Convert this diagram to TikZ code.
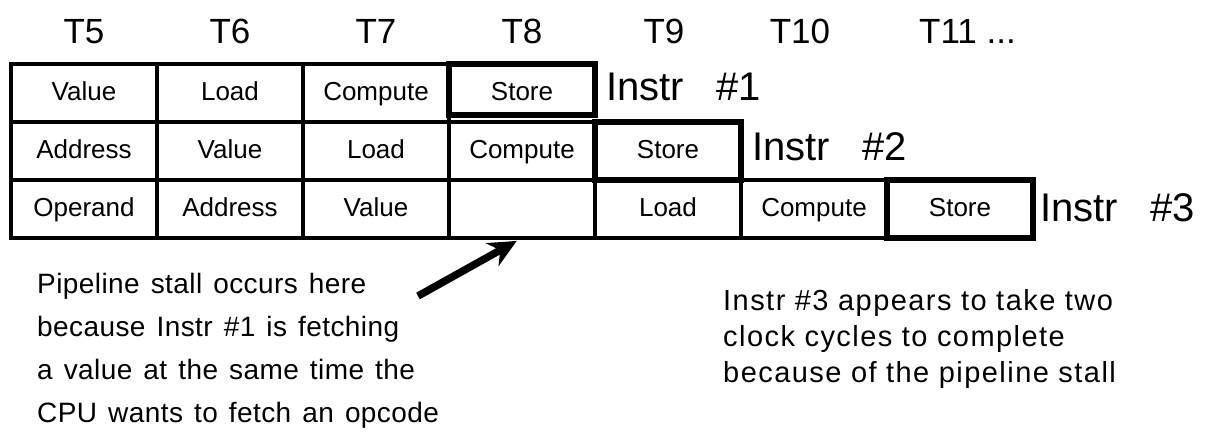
\documentclass[tikz,border=0pt]{standalone}
\usepackage{fontspec}
\setmainfont{Liberation Sans}
\newfontfamily\notefont[LetterSpace=1.5,WordSpace=1.35]{Liberation Sans}
\newfontfamily\widenotefont[LetterSpace=5]{Liberation Sans}
\usetikzlibrary{positioning,arrows.meta}
\tikzstyle{cell} = [rectangle, draw, line width=3.5pt, minimum width=146pt,
    minimum height=58pt, inner sep=0pt, outer sep=0pt,
    text height=19pt, text depth=5pt, font=\fontsize{26}{26}\selectfont]
\tikzstyle{store} = [cell, line width=6.5pt]
\tikzstyle{head} = [inner sep=0pt, font=\fontsize{35}{35}\selectfont]
\tikzstyle{instr} = [inner sep=0pt, font=\fontsize{40}{40}\selectfont]
\tikzstyle{note} = [align=left, inner sep=0pt, anchor=north west]

\begin{document}
\begin{tikzpicture}[x=1pt,y=-1pt,node distance=0pt,
                    stallarrow/.style={-{Stealth[length=28pt,width=26pt]},line width=7.5pt}]
  \useasboundingbox (0,0) rectangle (1211,432);

  % Instr #1
  \node[cell]  (i1t5) at (84,93)       {Value};
  \node[cell]  (i1t6) [right=of i1t5]  {Load};
  \node[cell]  (i1t7) [right=of i1t6]  {Compute};
  \node[store, minimum height=51pt, text height=26pt, anchor=north west]
               (i1t8) at (i1t7.north east) {Store};

  % Instr #2
  \node[cell]  (i2t5) [below=of i1t5]  {Address};
  \node[cell]  (i2t6) [right=of i2t5]  {Value};
  \node[cell]  (i2t7) [right=of i2t6]  {Load};
  \node[cell]  (i2t8) [right=of i2t7]  {Compute};
  \node[store] (i2t9) [right=of i2t8]  {Store};

  % Instr #3
  \node[cell]  (i3t5)  [below=of i2t5]  {Operand};
  \node[cell]  (i3t6)  [right=of i3t5]  {Address};
  \node[cell]  (i3t7)  [right=of i3t6]  {Value};
  \node[cell]  (i3t8)  [right=of i3t7]  {};
  \node[cell]  (i3t9)  [right=of i3t8]  {Load};
  \node[cell]  (i3t10) [right=of i3t9]  {Compute};
  \node[store] (i3t11) [right=of i3t10] {Store};

  % clock ticks
  \node[head] (t5) [above=20pt of i1t5] {T5};
  \node[head] (t6) [above=20pt of i1t6] {T6};
  \node[head] (t7) [above=20pt of i1t7] {T7};
  \node[head] (t8) at (i1t8 |- t5)      {T8};
  \node[head] (t9)  at (i3t9 |- t5)  [xshift=-4pt]  {T9};
  \node[head] (t10) at (i3t10 |- t5) [xshift=-14pt] {T10};
  \node[head, anchor=west] (t11) at (i3t11.west |- t5) [xshift=32pt] {T11 ...};

  \node[instr, right=11pt of i1t8, yshift=3pt]  (instr1) {Instr\hspace{0.8em}\#1};
  \node[instr, right=11pt of i2t9, yshift=4pt]  (instr2) {Instr\hspace{0.8em}\#2};
  \node[instr, right=7pt of i3t11, yshift=1pt] (instr3) {Instr\hspace{0.8em}\#3};

  % notes
  \node[note, font=\notefont\fontsize{28}{43}\selectfont] (stallnote) at (37,273)
    {Pipeline stall occurs here\\because Instr \#1 is fetching\\a value at the same time the\\CPU wants to fetch an opcode};
  \node[note, font=\widenotefont\fontsize{29}{36}\selectfont] (cyclenote) at (723,289)
    {Instr \#3 appears to take two\\clock cycles to complete\\because of the pipeline stall};

  \coordinate (tail) at (418,296);
  \draw[stallarrow,shorten >=6pt] (tail) -- (i3t8.south);
\end{tikzpicture}
\end{document}
